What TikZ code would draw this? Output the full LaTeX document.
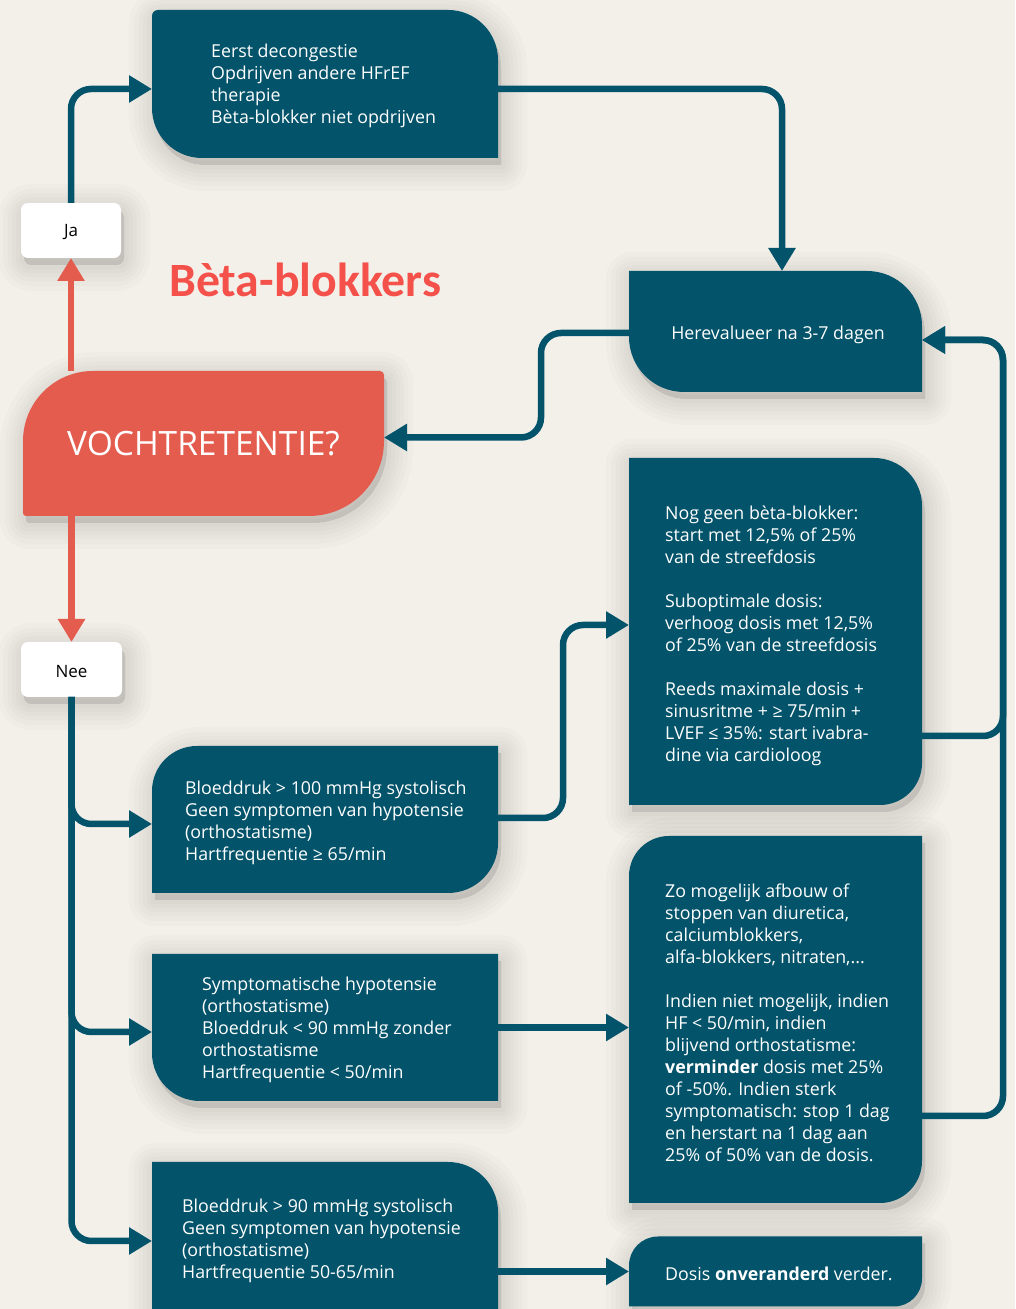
\documentclass[tikz,border=0pt]{standalone}
\usepackage{fontspec}
\setmainfont{Open Sans}
\newfontfamily\headfont{Carlito}
\usetikzlibrary{arrows.meta,calc}

\definecolor{petrol}{HTML}{03536A}
\definecolor{coral}{HTML}{E45C4E}
\definecolor{headred}{HTML}{F4514A}
\definecolor{paper}{HTML}{F3F0EA}

% Outline of a box node with its own radius per corner: tl, tr, br, bl
\newcommand\outline[5]{%
  ($(#1.north west)+(0,-#2)$) arc[start angle=180,end angle=90,radius=#2pt]
  -- ($(#1.north east)+(-#3,0)$) arc[start angle=90,end angle=0,radius=#3pt]
  -- ($(#1.south east)+(0,#4)$) arc[start angle=0,end angle=-90,radius=#4pt]
  -- ($(#1.south west)+(#5,0)$) arc[start angle=270,end angle=180,radius=#5pt]
  -- cycle}

% Soft drop shadow in a few layers, then the filled box
\newcommand\shapedbox[6]{%
  \foreach \w in {52,42,33,25,17,9}{%
    \path[shadowlayer,line width=\w pt] \outline{#2}{#3}{#4}{#5}{#6};}
  \path[#1] \outline{#2}{#3}{#4}{#5}{#6};}

\begin{document}
\begin{tikzpicture}[x=1pt,y=1pt,
  area/.style={shape=rectangle,inner sep=0pt,outer sep=0pt},
  shadowlayer/.style={fill=black,draw=black,opacity=0.017,line join=round,
      transform canvas={xshift=3pt,yshift=-7pt}},
  tealbox/.style={fill=petrol},
  redbox/.style={fill=coral},
  whitebox/.style={fill=white},
  label/.style={inner sep=0pt,font=\fontsize{17}{20}\selectfont,text=black},
  txt/.style={text=white,align=left,inner sep=0pt,anchor=west,
      font=\fontsize{17.8}{22}\selectfont},
  conn/.style={draw=petrol,line width=6.5pt,rounded corners=20pt,
      -{Triangle[length=23pt,width=26pt]}},
  redconn/.style={draw=coral,line width=6.5pt,
      -{Triangle[length=23pt,width=26pt]}},
]
\clip (0,0) rectangle (1015,1309);
\fill[paper] (0,0) rectangle (1015,1309);

% box areas
\node[area,minimum width=346pt,minimum height=148pt] (A)  at (325,1225)   {};
\node[area,minimum width=293pt,minimum height=121pt] (H)  at (775.5,977.5) {};
\node[area,minimum width=361pt,minimum height=145pt] (V)  at (203.5,865.5) {};
\node[area,minimum width=293pt,minimum height=347pt] (N)  at (775.5,677.5) {};
\node[area,minimum width=346pt,minimum height=147pt] (B1) at (325,489.5)  {};
\node[area,minimum width=346pt,minimum height=147pt] (S)  at (325,281.5)  {};
\node[area,minimum width=293pt,minimum height=367pt] (Z)  at (775.5,289.5) {};
\node[area,minimum width=346pt,minimum height=153pt] (B2) at (325,70.5)   {};
\node[area,minimum width=293pt,minimum height=70pt]  (D)  at (775.5,37.5)  {};
\node[area,minimum width=100pt,minimum height=55pt]  (Ja)  at (71,1078.5)  {};
\node[area,minimum width=101pt,minimum height=55pt]  (Nee) at (71.5,639.5) {};

% box shapes
\shapedbox{tealbox}{A}{6}{50}{0.1}{50}
\shapedbox{tealbox}{H}{0.1}{55}{0.1}{55}
\shapedbox{redbox}{V}{70}{4}{75}{3}
\shapedbox{tealbox}{N}{0.1}{48}{42}{0.1}
\shapedbox{tealbox}{B1}{45}{0.1}{50}{0.1}
\shapedbox{tealbox}{S}{0.1}{0.1}{0.1}{48}
\shapedbox{tealbox}{Z}{40}{0.1}{42}{0.1}
\shapedbox{tealbox}{B2}{0.1}{50}{0.1}{0.1}
\shapedbox{tealbox}{D}{29}{0.1}{28}{0.1}
\shapedbox{whitebox}{Ja}{7}{7}{7}{7}
\shapedbox{whitebox}{Nee}{7}{7}{7}{7}

% answer labels
\node[label] (Jat)  at ([yshift=-2pt]Ja.center)  {Ja};
\node[label] (Neet) at ([yshift=-2pt]Nee.center) {Nee};

% title
\node[text=headred,font=\headfont\bfseries\fontsize{47.8}{50}\selectfont,
      anchor=base west,inner sep=0pt] (title) at (169,1012) {Bèta-blokkers};

% box texts
\node[text=white,inner sep=0pt,font=\fontsize{33.5}{36}\selectfont] (Vt)
  at ([yshift=0pt]V.center) {VOCHTRETENTIE?};
\node[txt] (At) at ([xshift=59pt,yshift=-2pt]A.west)
  {Eerst decongestie\\Opdrijven andere HFrEF\\therapie\\Bèta-blokker niet opdrijven};
\node[txt,anchor=center,align=center] (Ht) at ([xshift=2.5pt,yshift=-3.5pt]H.center)
  {Herevalueer na 3-7 dagen};
\node[txt] (Nt) at ([xshift=36pt,yshift=-4.5pt]N.west)
  {Nog geen bèta-blokker:\\start met 12,5\% of 25\%\\van de streefdosis\\[22pt]%
   Suboptimale dosis:\\verhoog dosis met 12,5\%\\of 25\% van de streefdosis\\[22pt]%
   Reeds maximale dosis +\\sinusritme + ≥ 75/min +\\LVEF ≤ 35\%: start ivabra-\\dine via cardioloog};
\node[txt] (B1t) at ([xshift=33pt,yshift=-3pt]B1.west)
  {Bloeddruk > 100 mmHg systolisch\\Geen symptomen van hypotensie\\(orthostatisme)\\Hartfrequentie ≥ 65/min};
\node[txt] (St) at ([xshift=50pt,yshift=-2pt]S.west)
  {Symptomatische hypotensie\\(orthostatisme)\\Bloeddruk < 90 mmHg zonder\\orthostatisme\\Hartfrequentie < 50/min};
\node[txt] (Zt) at ([xshift=36pt,yshift=-3pt]Z.west)
  {Zo mogelijk afbouw of\\stoppen van diuretica,\\calciumblokkers,\\alfa-blokkers, nitraten,...\\[22pt]%
   Indien niet mogelijk, indien\\HF < 50/min, indien\\blijvend orthostatisme:\\\textbf{verminder} dosis met 25\%\\%
   of -50\%. Indien sterk\\symptomatisch: stop 1 dag\\en herstart na 1 dag aan\\25\% of 50\% van de dosis.};
\node[txt] (B2t) at ([xshift=30pt,yshift=-2pt]B2.west)
  {Bloeddruk > 90 mmHg systolisch\\Geen symptomen van hypotensie\\(orthostatisme)\\Hartfrequentie 50-65/min};
\node[txt] (Dt) at ([xshift=36pt,yshift=-2.5pt]D.west)
  {Dosis \textbf{onveranderd} verder.};

% connectors
\draw[redconn] (Ja.south |- V.north) -- (Ja.south);
\draw[redconn] (Nee.north |- V.south) -- (Nee.north);
\draw[conn] (Ja.north) |- ([yshift=-5pt]A.west);
\draw[conn] ([yshift=-5pt]A.east) -| ([xshift=6.5pt]H.north);
\draw[conn] ([yshift=-1.5pt]H.west) -- ++(-88,0) |- ([yshift=6pt]V.east);
\draw[conn] (Nee.south) |- ([yshift=-4.5pt]B1.west);
\draw[conn] (Nee.south) |- ([yshift=-4.5pt]S.west);
\draw[conn] (Nee.south) |- ([yshift=-2.5pt]B2.west);
\draw[conn] ([yshift=1.5pt]B1.east) -- ++(65,0) |- ([yshift=6.5pt]N.west);
\draw[conn] (S.east) -- (S.east -| Z.west);
\draw[conn] (B2.east |- D.west) -- (D.west);
\draw[conn] ([yshift=-104.5pt]N.east) -- ++(81,0) |- ([yshift=-8.5pt]H.east);
\draw[conn] ([yshift=-96.5pt]Z.east) -- ++(81,0) |- ([yshift=-8.5pt]H.east);
\end{tikzpicture}
\end{document}
